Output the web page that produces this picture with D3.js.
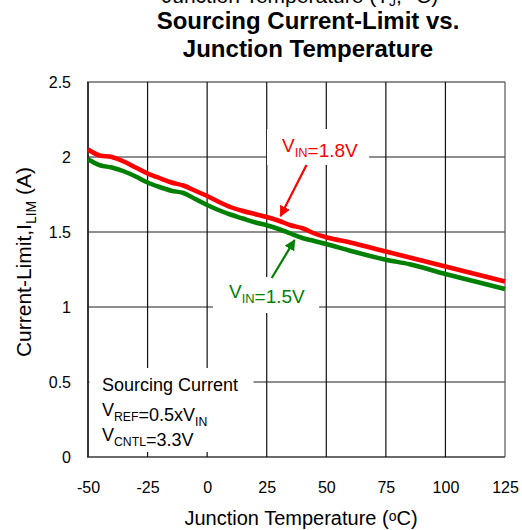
<!DOCTYPE html>
<html>
<head>
<meta charset="utf-8">
<script src="https://cdn.jsdelivr.net/npm/d3@7"></script>
<style>
  body { margin: 0; background: #fff; }
  text { font-family: "Liberation Sans", Arial, sans-serif; }
</style>
</head>
<body>
<div id="chart"></div>
<script>
// junction temperature (degC)
var tempRed = [-50, -45, -40, -35, -30, -25, -20, -15, -10, -5, 0, 5, 10, 15, 20, 25, 30, 35, 40, 45, 50, 60, 75, 90, 100, 110, 125];
var vin18 = [2.05, 2.01, 2.00, 1.97, 1.93, 1.89, 1.86, 1.83, 1.81, 1.775, 1.74, 1.70, 1.665, 1.64, 1.62, 1.60, 1.575, 1.545, 1.525, 1.49, 1.465, 1.43, 1.37, 1.31, 1.27, 1.23, 1.17];
var tempGreen = [-50, -45, -40, -35, -30, -25, -20, -15, -10, -5, 0, 5, 10, 15, 20, 25, 30, 35, 40, 45, 50, 60, 75, 85, 100, 110, 125];
var vin15 = [1.985, 1.945, 1.93, 1.905, 1.87, 1.83, 1.80, 1.775, 1.76, 1.72, 1.68, 1.645, 1.615, 1.59, 1.565, 1.545, 1.52, 1.49, 1.46, 1.44, 1.42, 1.375, 1.315, 1.285, 1.22, 1.18, 1.12];
var xTicks = [-50, -25, 0, 25, 50, 75, 100, 125];
var yTicks = [0, 0.5, 1, 1.5, 2, 2.5];
// arrows [fromT, fromI, toT, toI]
var arrowRed = [41.7, 1.946, 30.8, 1.606];
var arrowGreen = [27.1, 1.193, 36.7, 1.446];

var width = 522, height = 530;
var svg = d3.select("#chart").append("svg")
    .attr("width", width).attr("height", height);

var x = d3.scaleLinear().domain([-50, 125]).range([88, 505]),
    y = d3.scaleLinear().domain([0, 2.5]).range([457, 82]);

// grid
svg.append("g").selectAll("line").data(yTicks).enter().append("line")
    .attr("x1", x(-50) - 1).attr("x2", x(125))
    .attr("y1", d => y(d)).attr("y2", d => y(d))
    .attr("stroke", "#6a6a6a").attr("stroke-width", d => d === 0 ? 2 : 1.6);
svg.append("g").selectAll("line").data(xTicks).enter().append("line")
    .attr("y1", y(2.5)).attr("y2", y(0))
    .attr("x1", d => x(d)).attr("x2", d => x(d))
    .attr("stroke", d => d === -50 ? "#222" : (d === 125 ? "#555" : "#111"))
    .attr("stroke-width", d => d === -50 ? 1.8 : 1.2);

// axes (labels only)
var xAxis = svg.append("g").attr("transform", `translate(0,${y(0)})`)
    .call(d3.axisBottom(x).tickValues(xTicks).tickSize(0).tickPadding(25)
        .tickFormat(d => String(d)));
var yAxis = svg.append("g").attr("transform", `translate(${x(-50)},0)`)
    .call(d3.axisLeft(y).tickValues(yTicks).tickSize(0).tickPadding(17)
        .tickFormat(d => String(d)));
[xAxis, yAxis].forEach(a => {
    a.select(".domain").remove();
    a.selectAll("text").attr("font-size", 16).attr("fill", "#000")
        .style("font-family", '"Liberation Sans", Arial, sans-serif');
});

// curves
var line = d3.line().curve(d3.curveMonotoneX);
svg.append("path")
    .attr("d", line(tempGreen.map((t, i) => [x(t), y(vin15[i])])))
    .attr("fill", "none").attr("stroke", "#008000").attr("stroke-width", 4.5);
svg.append("path")
    .attr("d", line(tempRed.map((t, i) => [x(t), y(vin18[i])])))
    .attr("fill", "none").attr("stroke", "#ff0000").attr("stroke-width", 4.5);

// labels with white backdrop
function subLabel(g, xPos, yPos, parts, color, size) {
    var t = g.append("text").attr("x", xPos).attr("y", yPos)
        .attr("fill", color).attr("font-size", size);
    parts.forEach(p => {
        if (p.sub) {
            t.append("tspan").attr("font-size", size * 0.68).attr("dy", 5).text(p.sub);
            t.append("tspan").attr("dy", -5).text("");
        } else {
            t.append("tspan").text(p.text);
        }
    });
    return t;
}
function backed(xPos, yPos, parts, color, padL, padR, padT, padB) {
    var g = svg.append("g");
    var rect = g.append("rect").attr("fill", "#fff");
    var t = subLabel(g, xPos, yPos, parts, color, 19);
    var b = t.node().getBBox();
    rect.attr("x", b.x - padL).attr("y", b.y - padT)
        .attr("width", b.width + padL + padR).attr("height", b.height + padT + padB);
}
backed(282, 152, [{text: "V"}, {sub: "IN"}, {text: "=1.8V"}], "#ff0000", 15, 11, 6, 4);
backed(229, 298, [{text: "V"}, {sub: "IN"}, {text: "=1.5V"}], "#008000", 16, 14, 4, 6);

// arrows
var defs = svg.append("defs");
[["ah-red", "#ff0000"], ["ah-green", "#008000"]].forEach(m => {
    defs.append("marker").attr("id", m[0])
        .attr("viewBox", "0 0 10 10").attr("refX", 9).attr("refY", 5)
        .attr("markerWidth", 5).attr("markerHeight", 5).attr("orient", "auto")
        .attr("markerUnits", "strokeWidth")
        .append("path").attr("d", "M0,0 L10,5 L0,10 z").attr("fill", m[1]);
});
[[arrowRed, "#ff0000", "ah-red"], [arrowGreen, "#008000", "ah-green"]].forEach(a => {
    svg.append("line")
        .attr("x1", x(a[0][0])).attr("y1", y(a[0][1]))
        .attr("x2", x(a[0][2])).attr("y2", y(a[0][3]))
        .attr("stroke", a[1]).attr("stroke-width", 2.2)
        .attr("marker-end", `url(#${a[2]})`);
});

// conditions box
var cond = svg.append("g");
cond.append("rect").attr("x", x(-50) + 1.5).attr("y", 368)
    .attr("width", 164).attr("height", 84).attr("fill", "#fff");
subLabel(cond, 102, 391, [{text: "Sourcing Current"}], "#000", 18);
subLabel(cond, 102, 416, [{text: "V"}, {sub: "REF"}, {text: "=0.5xV"}, {sub: "IN"}], "#000", 18);
subLabel(cond, 102, 441, [{text: "V"}, {sub: "CNTL"}, {text: "=3.3V"}], "#000", 18);

// titles
svg.append("text").attr("x", 300).attr("y", 3).attr("text-anchor", "middle")
    .attr("font-size", 21)
    .html('Junction Temperature (T<tspan font-size="14" dy="3">J</tspan><tspan dy="-3">, °C)</tspan>');
svg.append("text").attr("x", 308).attr("y", 29).attr("text-anchor", "middle")
    .attr("font-size", 24).attr("font-weight", "bold").text("Sourcing Current-Limit vs.");
svg.append("text").attr("x", 308).attr("y", 57).attr("text-anchor", "middle")
    .attr("font-size", 24).attr("font-weight", "bold").text("Junction Temperature");

// axis titles
svg.append("text").attr("x", 301).attr("y", 525).attr("text-anchor", "middle")
    .attr("font-size", 20)
    .html('Junction Temperature (<tspan font-size="14" dy="-4">o</tspan><tspan dy="4">C)</tspan>');
svg.append("text").attr("transform", "translate(31,262) rotate(-90)")
    .attr("text-anchor", "middle").attr("font-size", 21)
    .html('Current-Limit,I<tspan font-size="14" dy="5">LIM</tspan><tspan dy="-5"> (A)</tspan>');
</script>
</body>
</html>
